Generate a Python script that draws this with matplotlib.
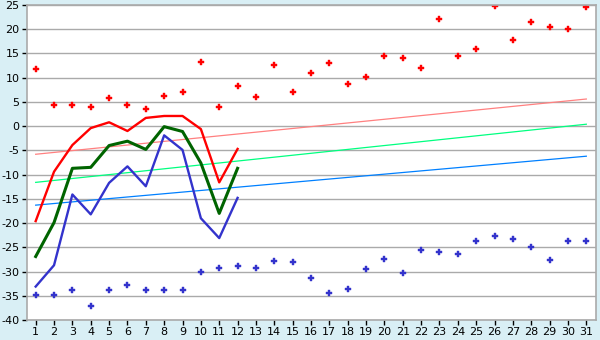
import matplotlib
matplotlib.use("Agg")
import matplotlib.pyplot as plt

plt.rcParams['axes.unicode_minus'] = False

days = list(range(1, 32))
line_days = list(range(1, 13))

max_points = [11.7, 4.4, 4.4, 4.0, 5.9, 4.4, 3.6, 6.3, 7.1, 13.3, 4.0, 8.2, 6.1, 12.7, 7.1,
              10.9, 13.0, 8.8, 10.1, 14.4, 14.0, 12.1, 22.2, 14.4, 16.0, 24.7, 17.7, 21.4,
              20.4, 20.0, 24.5]
min_points = [-34.9, -34.9, -33.9, -37.2, -33.9, -32.8, -33.9, -33.9, -33.9, -30.0, -29.3,
              -28.9, -29.3, -27.9, -28.1, -31.4, -34.5, -33.7, -29.5, -27.5, -30.2, -25.6,
              -26.0, -26.4, -23.8, -22.7, -23.3, -25.0, -27.7, -23.8, -23.8]

line_max = [-19.6, -9.4, -3.9, -0.4, 0.8, -1.0, 1.7, 2.1, 2.1, -0.6, -11.6, -4.7]
line_mean = [-26.9, -19.9, -8.7, -8.5, -4.0, -3.1, -4.8, -0.1, -1.1, -7.6, -18.0, -8.7]
line_min = [-33.1, -28.7, -14.1, -18.2, -11.7, -8.3, -12.4, -1.9, -4.9, -19.0, -23.1, -14.8]

norm_days = [1, 31]
norm_max = [-5.8, 5.6]
norm_mean = [-11.6, 0.4]
norm_min = [-16.3, -6.2]

yticks = list(range(-40, 30, 5))

bg = '#d9eff5'
fig = plt.figure(figsize=(6, 3.4), dpi=100, facecolor=bg)
ax = fig.add_axes([26.5/600, 1 - 320/340, (595.5 - 26.5)/600, (320 - 5)/340])
ax.set_facecolor('white')

ax.set_xlim(0.5, 31.5)
ax.set_ylim(-40, 25)
ax.set_yticks(yticks)
ax.set_xticks(days)
ax.yaxis.grid(True, color='#aaaaaa', linewidth=1.0)
ax.set_axisbelow(True)
for s in ax.spines.values():
    s.set_color('#aaaaaa')
    s.set_linewidth(1.2)
ax.tick_params(axis='both', direction='out', length=3.5, width=1, color='black',
               labelsize=8, pad=1.5)

ax.plot(norm_days, norm_max, color='#ff8080', lw=0.9)
ax.plot(norm_days, norm_mean, color='#00ff80', lw=0.9)
ax.plot(norm_days, norm_min, color='#0080ff', lw=0.9)

ax.plot(line_days, line_max, color='#ff0000', lw=1.7)
ax.plot(line_days, line_mean, color='#006400', lw=2.2)
ax.plot(line_days, line_min, color='#3333cc', lw=1.7)

ax.plot(days, max_points, linestyle='none', marker='P', markersize=5,
        color='#ff0000', markeredgewidth=0.3, markeredgecolor='#ff0000')
ax.plot(days, min_points, linestyle='none', marker='P', markersize=5,
        color='#3333cc', markeredgewidth=0.3, markeredgecolor='#3333cc')

fig.savefig('out.png', dpi=100, facecolor=bg)
